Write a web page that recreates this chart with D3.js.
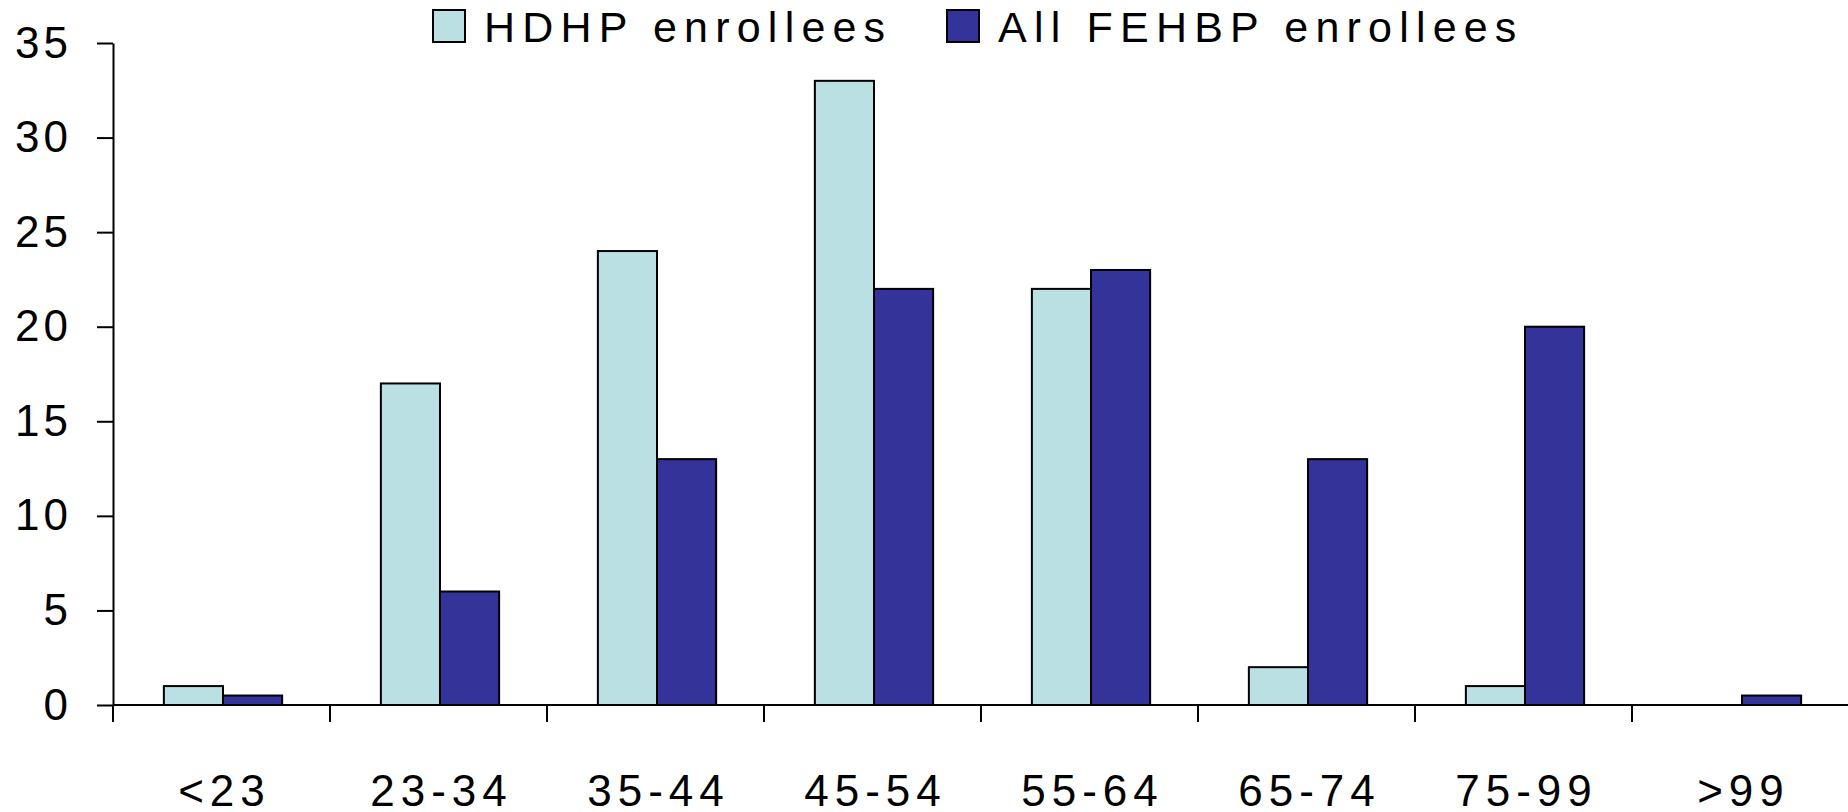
<!DOCTYPE html>
<html>
<head>
<meta charset="utf-8">
<script src="https://cdn.jsdelivr.net/npm/d3@7"></script>
<style>
  html, body { margin: 0; padding: 0; background: #fff; }
  svg { display: block; }
  text { font-family: "Liberation Sans", Arial, sans-serif; fill: #000; }
</style>
</head>
<body>
<svg id="chart" width="1848" height="812"></svg>
<script>
const categories = ["<23", "23-34", "35-44", "45-54", "55-64", "65-74", "75-99", ">99"];
const seriesNames = ["HDHP enrollees", "All FEHBP enrollees"];
const hdhpValues = [1, 17, 24, 33, 22, 2, 1, 0];
const allFehbpValues = [0.5, 6, 13, 22, 23, 13, 20, 0.5];
const yTicks = [0, 5, 10, 15, 20, 25, 30, 35];
const seriesColors = ["#BBE0E3", "#333399"];

(function () {
const svg = d3.select("#chart");
const W = 1848, H = 812;
const mLeft = 113, mRight = 1849, mTop = 43, mBottom = 705;

const x = d3.scaleBand().domain(categories).range([mLeft, mRight]).paddingInner(0).paddingOuter(0);
const bw = x.bandwidth();
const pairW = bw * 0.545;
const xs = d3.scaleBand().domain(d3.range(seriesNames.length))
  .range([(bw - pairW) / 2 + 1.5, (bw + pairW) / 2 + 1.5]).padding(0);
const y = d3.scaleLinear().domain([0, 35]).range([mBottom, mTop]);

const series = [hdhpValues, allFehbpValues];

// bars
const g = svg.append("g");
categories.forEach((c, i) => {
  series.forEach((vals, s) => {
    const v = vals[i];
    if (v <= 0) return;
    g.append("rect")
      .attr("x", x(c) + xs(s))
      .attr("y", y(v))
      .attr("width", xs.bandwidth())
      .attr("height", y(0) - y(v))
      .attr("fill", seriesColors[s])
      .attr("stroke", "#000")
      .attr("stroke-width", 2);
  });
});

// y axis
const yAxis = d3.axisLeft(y).tickValues(yTicks).tickSize(16).tickSizeOuter(0).tickPadding(29);
const ya = svg.append("g").attr("transform", `translate(${mLeft},0)`).call(yAxis);
ya.select(".domain").attr("stroke", "#000").attr("stroke-width", 2);
ya.selectAll(".tick line").attr("stroke", "#000").attr("stroke-width", 2);
ya.selectAll(".tick text")
  .style("font-family", '"Liberation Sans", Arial, sans-serif')
  .style("font-size", "44px")
  .style("letter-spacing", "4px")
  .attr("fill", "#000")
  .attr("dx", "4px");

// x axis
const xa = svg.append("g");
xa.append("line").attr("x1", mLeft).attr("x2", W).attr("y1", y(0)).attr("y2", y(0))
  .attr("stroke", "#000").attr("stroke-width", 2);
categories.forEach(c => {
  xa.append("line").attr("x1", x(c)).attr("x2", x(c)).attr("y1", y(0)).attr("y2", y(0) + 17)
    .attr("stroke", "#000").attr("stroke-width", 2);
});
xa.selectAll("text.xl").data(categories).enter().append("text")
  .attr("class", "xl")
  .attr("x", d => x(d) + bw / 2 + 3)
  .attr("y", 806)
  .attr("text-anchor", "middle")
  .style("font-size", "44px")
  .style("letter-spacing", "6px")
  .text(d => d);

// legend
const legendX = [433, 947];
const leg = svg.append("g");
seriesNames.forEach((n, i) => {
  leg.append("rect").attr("x", legendX[i]).attr("y", 10).attr("width", 32).attr("height", 32)
    .attr("fill", seriesColors[i]).attr("stroke", "#000").attr("stroke-width", 2);
  leg.append("text").attr("x", legendX[i] + 51).attr("y", 42)
    .style("font-size", "43px").style("letter-spacing", "7.2px").text(n);
});
})();
</script>
</body>
</html>
